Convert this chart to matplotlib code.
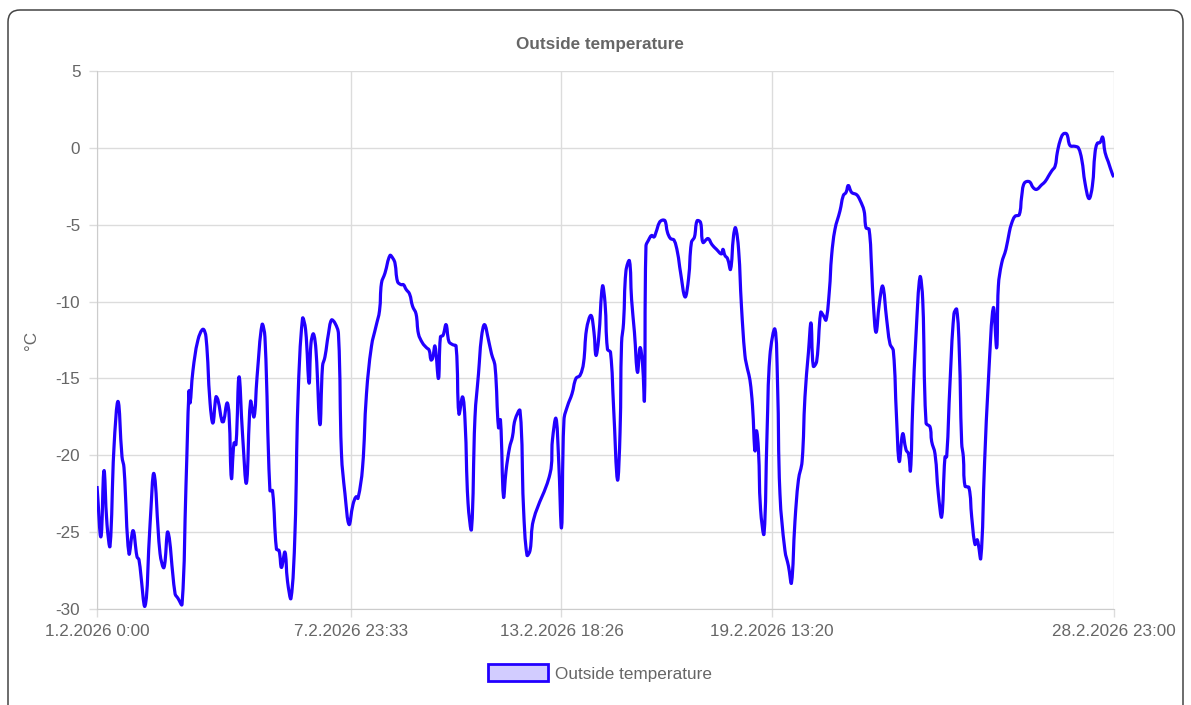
import numpy as np
import pandas as pd
import matplotlib
matplotlib.use("Agg")
import matplotlib.pyplot as plt
from matplotlib.patches import FancyBboxPatch, Patch, PathPatch
from matplotlib.path import Path
from matplotlib.transforms import IdentityTransform

plt.rcParams['font.family'] = ['Liberation Sans', 'DejaVu Sans']

# hours since 1.2.2026 0:00 and outside temperature in °C
hours = [0.0, 2.6, 4.6, 6.6, 8.6, 11.2, 13.9, 16.5, 17.8, 21.1, 23.8, 26.4, 27.7, 31.7, 35.0, 37.6,
         41.6, 44.2, 46.8, 51.5, 53.4, 56.1, 58.7, 60.7, 61.4, 63.3, 66.6, 69.9, 71.9, 74.6, 76.5,
         78.5, 79.8, 82.5, 83.5, 85.8, 87.1, 88.7, 90.4, 91.7, 93.7, 96.0, 98.6, 101.3, 103.6,
         105.6, 108.9, 110.8, 114.1, 115.8, 118.4, 120.1, 121.7, 124.0, 125.7, 128.0, 130.6,
         132.6, 135.6, 137.6, 139.9, 141.2, 142.8, 144.5, 147.1, 148.8, 150.4, 152.7, 154.7,
         157.0, 159.3, 161.3, 163.6, 166.3, 168.9, 170.9, 172.2, 175.2, 177.8, 181.1, 184.1,
         186.4, 187.7, 190.0, 193.3, 195.3, 196.6, 198.3, 200.6, 202.2, 203.9, 206.2, 208.2,
         210.5, 212.1, 214.8, 217.4, 219.1, 220.4, 221.4, 223.0, 225.3, 226.6, 228.3, 230.3,
         232.2, 234.6, 236.9, 238.8, 241.2, 242.8, 244.8, 247.1, 249.4, 251.7, 253.7, 255.7,
         258.3, 260.3, 262.6, 264.9, 266.2, 268.2, 269.9, 272.2, 274.1, 275.8, 279.1, 281.4,
         283.7, 285.7, 288.0, 298.9, 300.5, 302.8, 304.5, 306.5, 308.1, 310.4, 313.4, 316.0,
         318.7, 321.0, 323.0, 325.9, 327.9, 329.2, 330.9, 333.5, 335.2, 336.8, 338.8, 340.8,
         343.4, 345.1, 346.1, 347.4, 349.0, 351.3, 352.7, 354.6, 356.6, 358.3, 359.9, 361.2,
         362.2, 363.9, 365.9, 367.5, 368.8, 371.1, 373.1, 374.8, 376.4, 378.4, 380.7, 383.0,
         385.0, 388.0, 390.3, 392.2, 394.2, 395.9, 398.2, 399.8, 403.1, 405.8, 408.7, 412.0,
         413.0, 414.3, 416.0, 418.0, 420.0, 421.3, 423.3, 425.2, 427.5, 429.2, 430.8, 432.5,
         434.1, 435.1, 436.4, 437.8, 440.1, 442.1, 444.0, 447.3, 449.0, 450.6, 453.9, 456.2,
         458.2, 460.5, 462.8, 465.2, 467.1, 469.4, 471.1, 472.6, 474.8, 477.5, 479.2, 481.0,
         483.2, 484.7, 486.9, 490.2, 492.4, 494.2, 495.7, 497.9, 501.2, 503.4, 506.1, 507.4,
         509.4, 511.1, 512.2, 514.0, 516.2, 518.4, 521.0, 523.2, 525.4, 527.5, 529.3, 531.6,
         533.8, 535.4, 536.7, 538.2, 540.4, 543.0, 544.8, 547.0, 549.6, 550.7, 552.9, 555.1,
         557.3, 559.5, 560.6, 562.8, 565.4, 567.2, 568.9, 570.5, 571.6, 572.7, 575.3, 577.1,
         579.3, 580.8, 583.1, 585.6, 588.2, 591.4, 593.6, 594.7, 596.9, 599.7, 601.9, 603.5,
         605.7, 608.5, 610.1, 611.8, 615.1, 617.8, 620.0, 623.3, 625.5, 627.7, 629.9, 632.1,
         633.6, 635.4, 637.5, 639.8, 642.0, 645.3, 647.5, 649.7, 651.9, 654.5, 656.7, 658.5,
         660.0, 661.8, 663.5, 665.1, 667.2, 670.1, 671.0]

temps = [-22.0, -25.3, -21.0, -24.5, -25.9, -19.5, -16.5, -20.1, -20.8, -26.4, -24.9, -26.6, -26.8,
         -29.8, -24.5, -21.2, -26.4, -27.3, -25.0, -29.0, -29.3, -29.7, -22.0, -15.8, -16.6, -14.5,
         -12.5, -11.8, -12.3, -16.6, -17.9, -16.2, -16.4, -17.8, -17.8, -16.6, -17.3, -21.5, -19.2,
         -19.3, -14.9, -18.6, -21.8, -16.5, -17.5, -14.9, -11.5, -12.3, -22.3, -22.3, -26.1, -26.2,
         -27.3, -26.3, -28.2, -29.3, -25.1, -16.4, -11.1, -11.8, -15.3, -12.7, -12.1, -13.2, -18.0,
         -14.2, -13.6, -12.1, -11.2, -11.4, -12.1, -19.9, -22.5, -24.5, -23.2, -22.7, -22.8, -20.8,
         -16.0, -12.9, -11.6, -10.6, -8.8, -8.15, -7.0, -7.2, -7.5, -8.7, -8.9, -8.9, -9.2, -9.5,
         -10.3, -10.8, -12.1, -12.7, -13.0, -13.15, -13.8, -13.7, -12.9, -15.0, -12.3, -12.2, -11.5,
         -12.6, -12.8, -12.9, -17.3, -16.2, -17.7, -23.1, -24.8, -17.5, -14.7, -12.3, -11.5, -12.5,
         -13.4, -14.2, -18.2, -17.7, -22.7, -21.0, -19.5, -18.8, -17.7, -17.1, -23.4, -26.5, -26.2,
         -24.2, -21.2, -19.0, -17.6, -20.1, -24.7, -17.7, -16.8, -16.0, -15.0, -14.8, -14.0, -11.8,
         -10.9, -12.0, -13.5, -12.5, -9.0, -10.1, -13.1, -13.3, -16.8, -21.6, -18.5, -12.7, -11.4,
         -8.0, -7.35, -9.85, -12.0, -14.6, -13.0, -14.0, -16.4, -6.4, -6.0, -5.7, -5.8, -5.5, -4.85,
         -4.7, -4.75, -5.5, -5.9, -6.0, -6.8, -8.1, -9.7, -8.5, -6.15, -5.8, -4.75, -4.85, -6.15,
         -5.9, -6.3, -6.6, -6.9, -6.6, -7.0, -7.2, -7.9, -5.7, -5.2, -6.6, -10.3, -13.5, -14.4,
         -15.1, -16.8, -19.7, -18.4, -19.6, -23.5, -25.1, -18.5, -13.5, -11.8, -15.3, -22.5, -26.2,
         -27.2, -28.3, -24.3, -21.6, -20.4, -16.2, -13.3, -11.4, -14.2, -13.9, -10.7, -10.9, -11.2,
         -9.3, -7.0, -5.3, -4.1, -3.1, -2.9, -2.45, -2.9, -3.05, -3.4, -4.1, -5.2, -5.3, -7.9, -10.1,
         -12.0, -10.1, -9.0, -11.15, -12.75, -13.2, -17.5, -20.4, -18.6, -19.65, -19.9, -21.0, -16.8,
         -12.1, -8.4, -9.9, -17.9, -18.15, -19.1, -19.9, -22.5, -24.0, -20.1, -20.1, -15.3, -10.8,
         -10.5, -13.15, -19.2, -20.1, -22.0, -22.1, -24.0, -25.8, -25.5, -26.7, -20.5, -15.0, -10.4,
         -13.0, -9.0, -7.5, -6.6, -5.5, -4.9, -4.45, -4.35, -3.15, -2.3, -2.2, -2.6, -2.7, -2.4,
         -2.2, -1.85, -1.5, -1.2, -0.3, 0.45, 0.9, 0.9, 0.15, 0.1, 0.0, -0.75, -2.3, -3.3, -2.5,
         -0.3, 0.3, 0.35, 0.7, -0.3, -0.9, -1.75, -1.9]

tick_labels = ["1.2.2026 0:00", "7.2.2026 23:33", "13.2.2026 18:26",
               "19.2.2026 13:20", "28.2.2026 23:00"]
y_ticks = [5, 0, -5, -10, -15, -20, -25, -30]

start = pd.Timestamp(2026, 2, 1)
tick_pos = [(pd.to_datetime(t, format="%d.%m.%Y %H:%M") - start) / pd.Timedelta(hours=1)
            for t in tick_labels]

line_col = '#2200ff'
grey = '#666666'
grid_col = '#dcdcdc'

W, H = 1191, 705
fig = plt.figure(figsize=(W / 100, H / 100), dpi=100)
ax = fig.add_axes([97 / W, 1 - 609 / H, (1114 - 97) / W, (609 - 71) / H])
ax.set_xlim(tick_pos[0], tick_pos[-1])
ax.set_ylim(-30, 5)


def smooth_path(ax, xs, ys, tension=0.4):
    # cubic bezier through the points, control points like Chart.js (tension)
    pts = ax.transData.transform(np.column_stack([xs, ys]))
    n = len(pts)
    verts = [pts[0]]
    codes = [Path.MOVETO]
    cps = []
    for i in range(n):
        p0 = pts[max(i - 1, 0)]
        p1 = pts[i]
        p2 = pts[min(i + 1, n - 1)]
        d01 = np.hypot(*(p1 - p0))
        d12 = np.hypot(*(p2 - p1))
        tot = d01 + d12
        fa = tension * d01 / tot if tot else 0
        fb = tension * d12 / tot if tot else 0
        cps.append((p1 - fa * (p2 - p0), p1 + fb * (p2 - p0)))
    for i in range(1, n):
        verts += [cps[i - 1][1], cps[i][0], pts[i]]
        codes += [Path.CURVE4] * 3
    return Path(ax.transData.inverted().transform(np.array(verts)), codes)


ax.add_patch(PathPatch(smooth_path(ax, hours, temps), fill=False, edgecolor=line_col,
                       lw=2.3, joinstyle='round', zorder=3))

ax.set_xticks(tick_pos)
ax.set_xticklabels(tick_labels)
ax.set_yticks(y_ticks)
ax.set_yticklabels([str(v) for v in y_ticks])
ax.grid(True, color=grid_col, lw=1.0)
ax.tick_params(axis='both', colors=grid_col, labelcolor=grey, labelsize=12.3,
               length=6, width=1.0)
ax.tick_params(axis='x', pad=5)
ax.tick_params(axis='y', pad=6)
for s in ['top', 'right']:
    ax.spines[s].set_visible(False)
for s in ['left', 'bottom']:
    ax.spines[s].set_color('#cccccc')
ax.set_ylabel('°C', color=grey, fontsize=12.3, labelpad=12)

fig.text(600 / W, 1 - 45 / H, 'Outside temperature', ha='center', va='center',
         fontsize=12.3, fontweight='bold', color=grey)

handle = Patch(facecolor=(34 / 255, 0, 1, 0.2), edgecolor=line_col, lw=2.0)
fig.legend([handle], ['Outside temperature'], loc='center',
           bbox_to_anchor=(600 / W, 1 - 673 / H), frameon=False, fontsize=12.3,
           labelcolor=grey, handlelength=3.5, handleheight=1.1, handletextpad=0.45)

border = FancyBboxPatch((8, -30), 1175, 725, boxstyle="round,pad=0,rounding_size=12",
                        transform=IdentityTransform(), fill=False, edgecolor='#444444', lw=1.1)
fig.patches.append(border)

fig.savefig('out.png', dpi=100)
